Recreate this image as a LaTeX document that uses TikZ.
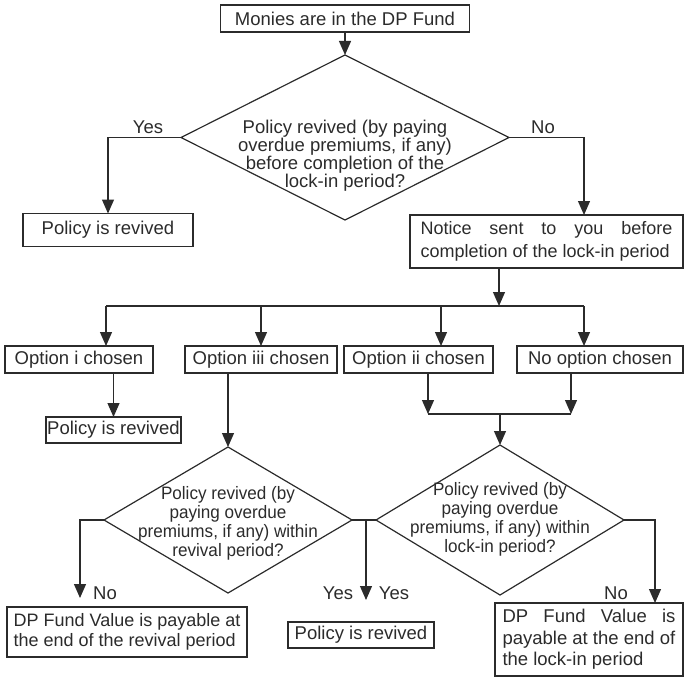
\documentclass[tikz,border=0pt]{standalone}
\usepackage{fontspec}
\setmainfont{Liberation Sans}
\newfontfamily\condfont[FakeStretch=0.95]{Liberation Sans}
\usetikzlibrary{shapes.geometric,arrows.meta,calc}
\definecolor{ink}{HTML}{2B2B2B}
\begin{document}
\begin{tikzpicture}[x=1pt,y=-1pt,
  every node/.style={text=ink, font=\fontsize{18.5}{18}\selectfont, outer sep=0pt},
  box/.style={draw=ink, line width=1.2pt, rectangle, inner sep=0pt, align=center},
  dia/.style={draw=ink, line width=1.2pt, diamond, inner sep=0pt},
  dtext/.style={align=center, inner sep=0pt},
  ctext/.style={align=center, inner sep=0pt, font=\condfont\fontsize{18}{19}\selectfont},
  arr/.style={draw=ink, line width=1.2pt, -{Triangle[length=14pt,width=12pt]}},
  ln/.style={draw=ink, line width=1.2pt},
  lbl/.style={inner sep=0pt}]
\useasboundingbox (0,0) rectangle (684,677);

% top part
\node[box, minimum width=249pt, minimum height=27pt] (top) at (345,18.5) {Monies are in the DP Fund};
\node[dia, minimum width=328pt, minimum height=165pt] (d1) at (345,137.5) {};
\node[dtext] (d1t) at (345,156) {Policy revived (by paying\\overdue premiums, if any)\\before completion of the\\lock-in period?};
\draw[arr] (top.south) -- (d1.north);

\node[lbl] (yes1) at (148,127) {Yes};
\node[lbl] (no1) at (543,127) {No};

\node[box, minimum width=170pt, minimum height=33pt] (rev1) at (108,230) {Policy is revived};
\node[box, minimum width=273pt, minimum height=53pt, align=left, font=\fontsize{18}{22.5}\selectfont] (notice) at (546.5,241.5)
  {\makebox[252pt][s]{Notice sent to you before}\\completion of the lock-in period};

\draw[arr] (d1.west) -| (rev1.north);
\draw[arr] (d1.east) -| ([xshift=37.5pt]notice.north);

% bus
\coordinate (bus) at (499,306);
\coordinate (bus1) at (106,306);
\coordinate (bus2) at (261,306);
\coordinate (bus3) at (441,306);
\coordinate (bus4) at (584,306);
\draw[arr] ([xshift=-47.5pt]notice.south) -- (bus);
\draw[ln] (bus1) -- (bus4);

\node[box, minimum width=148pt, minimum height=27pt] (o1) at (79,359.5) {Option i chosen};
\node[box, minimum width=152pt, minimum height=27pt] (o3) at (261,359.5) {Option iii chosen};
\node[box, minimum width=149pt, minimum height=27pt] (o2) at (418.5,359.5) {Option ii chosen};
\node[box, minimum width=166pt, minimum height=27pt] (no) at (600,359.5) {No option chosen};

\draw[arr] (bus1) -- (bus1 |- o1.north);
\draw[arr] (bus2) -- (o3.north);
\draw[arr] (bus3) -- (bus3 |- o2.north);
\draw[arr] (bus4) -- (bus4 |- no.north);

\node[box, minimum width=135pt, minimum height=26pt] (rev2) at (113.5,430) {Policy is revived};
\draw[arr] (o1.south -| rev2.north) -- (rev2.north);

% lower diamonds
\node[dia, minimum width=248pt, minimum height=146pt] (d2) at (228,520) {};
\node[ctext] (d2t) at (228,523) {Policy revived (by\\paying overdue\\premiums, if any) within\\revival period?};
\draw[arr] (o3.south -| d2.north) -- (d2.north);

\coordinate (m1) at (428,414);
\coordinate (m2) at (571,414);
\coordinate (mc) at (500,414);
\node[dia, minimum width=248pt, minimum height=150pt] (d3) at (500,520) {};
\node[ctext] (d3t) at (500,519) {Policy revived (by\\paying overdue\\premiums, if any) within\\lock-in period?};
\draw[arr] (o2.south -| m1) -- (m1);
\draw[arr] (no.south -| m2) -- (m2);
\draw[ln] (m1) -- (m2);
\draw[arr] (mc) -- (d3.north);

% bottom
\draw[ln] (d2.east) -- (d3.west);
\coordinate (yb) at (366,520);
\coordinate (yt) at (366,600);
\draw[arr] (yb) -- (yt);
\node[lbl] (yes2) at (338,593) {Yes};
\node[lbl] (yes3) at (394,593) {Yes};

\coordinate (nl) at (80,598);
\draw[arr] (d2.west) -| (nl);
\node[lbl] (no2) at (105,593) {No};

\node[box, minimum width=240pt, minimum height=50pt, align=left, font=\fontsize{18}{20}\selectfont] (dpl) at (127,632)
  {DP Fund Value is payable at\\the end of the revival period};
\node[box, minimum width=146pt, minimum height=26pt] (rev3) at (361,635) {Policy is revived};
\node[box, minimum width=188pt, minimum height=73pt, align=left, font=\fontsize{18.5}{21.5}\selectfont] (dpr) at (589,639.5)
  {\makebox[173pt][s]{DP Fund Value is}\\payable at the end of\\the lock-in period};

\draw[arr] (d3.east) -| ([xshift=66pt]dpr.north);
\node[lbl] (no3) at (616,593) {No};
\end{tikzpicture}
\end{document}
